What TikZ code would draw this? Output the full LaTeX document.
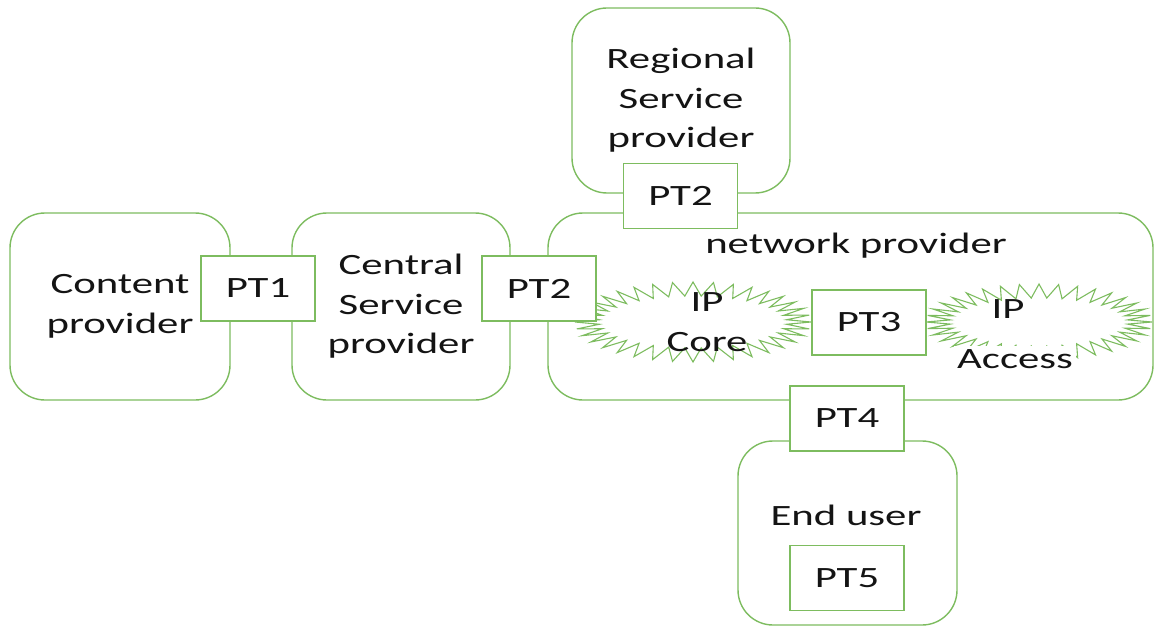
\documentclass[tikz,border=0pt]{standalone}
\usepackage{fontspec}
\setmainfont[FakeStretch=1.45]{Carlito}
\definecolor{lgreen}{RGB}{125,188,95}
\definecolor{txt}{RGB}{20,20,20}
\tikzset{
  bigbox/.style={draw=lgreen, line width=1.4pt, rounded corners=35pt, fill=none, inner sep=0pt},
  ptbox/.style={draw=lgreen, line width=1.4pt, fill=white, minimum width=114pt, minimum height=65pt, inner sep=0pt},
  lbl/.style={text=txt, font=\fontsize{29.5}{39.5}\selectfont, align=center, inner sep=0pt},
  starline/.style={draw=lgreen, line width=1.1pt, line join=miter},
}
\newcommand\mystarburst[4]{% cx, cy, rx, ry
  \draw[starline] plot[samples at={0,...,71}, variable=\t]
    ({#1 + (#3 - 24*mod(\t,2))*cos(\t*5)}, {#2 + (#4 - 14*mod(\t,2))*sin(\t*5)}) -- cycle;
}
\begin{document}
\begin{tikzpicture}[x=1pt, y=-1pt]
\useasboundingbox (0,0) rectangle (1155,628);
% big boxes
\node[bigbox, minimum width=220pt, minimum height=187pt, lbl] (cp) at (120,306.5) {Content\\provider};
\node[bigbox, minimum width=218pt, minimum height=187pt, lbl] (csp) at (401,306.5) {Central\\Service\\provider};
\node[bigbox, minimum width=218pt, minimum height=185pt, lbl] (rsp) at (681,100.5) {Regional\\Service\\provider};
\node[bigbox, minimum width=605pt, minimum height=187pt] (np) at (850.5,306.5) {};
\node[bigbox, minimum width=219pt, minimum height=184pt] (eu) at (847.5,533) {};
% starbursts
\mystarburst{693}{322}{118}{40}
\mystarburst{1039}{322}{113}{38}
% texts
\node[lbl] (nptxt) at (856,246) {network provider};
\node[lbl] (core) at (707,322) {IP\\Core};
\node[lbl] (acc1) at (1008,309) {IP};
\node[lbl, fill=white, inner sep=3pt] (acc2) at (1015,359) {Access};
\node[lbl] (eutxt) at (846,515) {End user};
% PT boxes
\node[ptbox, lbl] (pt1) at (258,288.5) {PT1};
\node[ptbox, lbl] (pt2a) at (539,288.5) {PT2};
\node[ptbox, lbl] (pt2b) at (680.5,196) {PT2};
\node[ptbox, lbl] (pt3) at (869,322.5) {PT3};
\node[ptbox, lbl] (pt4) at (847,418.5) {PT4};
\node[ptbox, lbl] (pt5) at (847,578) {PT5};
\end{tikzpicture}
\end{document}
